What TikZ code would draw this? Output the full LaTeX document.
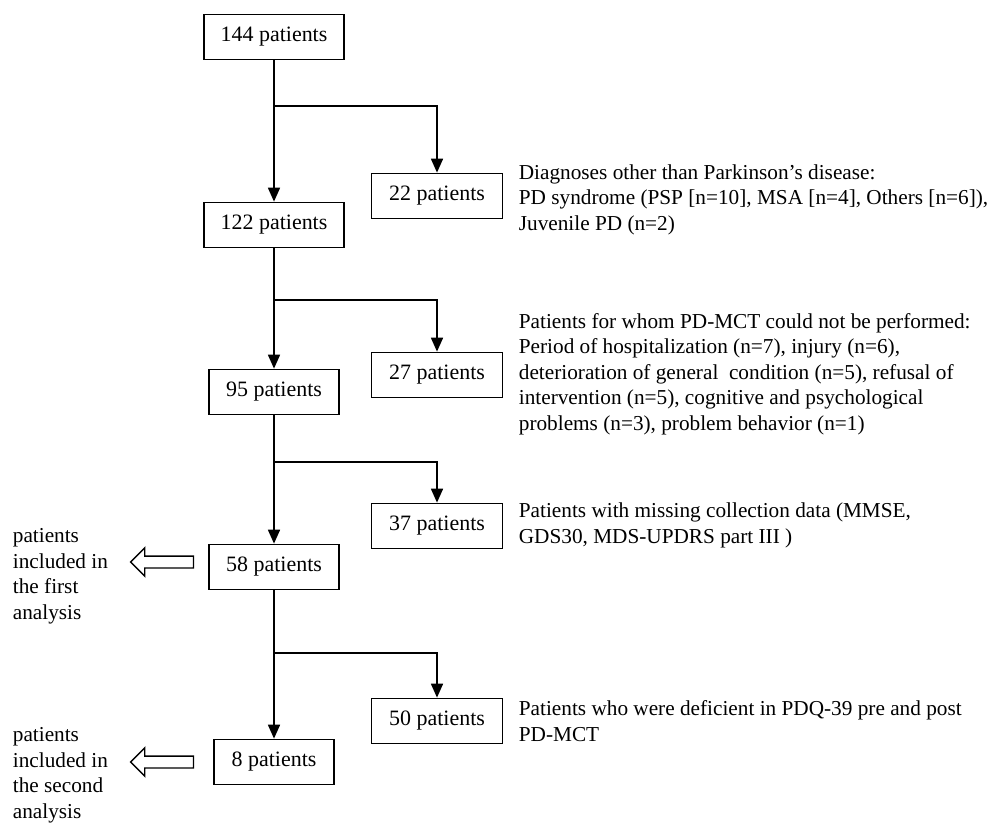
\documentclass[tikz,border=0pt]{standalone}
\usepackage{fontspec}
\setmainfont{Liberation Serif}
\usetikzlibrary{arrows.meta,shapes.arrows}

\begin{document}
\begin{tikzpicture}[x=0.02cm,y=-0.02cm,line width=1pt,
  >={Triangle[length=0.28cm,width=0.24cm]}]
  \tikzstyle{box}=[draw,font=\fontsize{12.5}{14.8}\selectfont,inner sep=0pt,minimum height=0.9cm]
  \tikzstyle{note}=[font=\fontsize{12.1}{14.5}\selectfont,anchor=base west,align=left,inner sep=0pt]
  \tikzstyle{hollow}=[draw,single arrow,shape border rotate=180,minimum height=1.26cm,
                      inner xsep=0pt,inner ysep=0.105cm,single arrow head extend=0.165cm,line width=0.8pt]
  \useasboundingbox (0,0) rectangle (997,826);

  % main column
  \node[box,minimum width=2.8cm] (n144) at (274,37)  {144 patients};
  \node[box,minimum width=2.8cm] (n122) at (274,225) {122 patients};
  \node[box,minimum width=2.6cm] (n95)  at (274,392) {95 patients};
  \node[box,minimum width=2.6cm] (n58)  at (274,567) {58 patients};
  \node[box,minimum width=2.4cm] (n8)   at (274,762) {8 patients};

  % excluded
  \node[box,minimum width=2.62cm] (n22) at (437,196) {22 patients};
  \node[box,minimum width=2.62cm] (n27) at (437,375) {27 patients};
  \node[box,minimum width=2.62cm] (n37) at (437,526) {37 patients};
  \node[box,minimum width=2.62cm] (n50) at (437,721) {50 patients};

  \coordinate (b1) at (274,106);
  \coordinate (b2) at (274,300);
  \coordinate (b3) at (274,462);
  \coordinate (b4) at (274,653);

  \draw[->] (n144) -- (n122);
  \draw[->] (n122) -- (n95);
  \draw[->] (n95) -- (n58);
  \draw[->] (n58) -- (n8);
  \draw[->] (b1) -| (n22);
  \draw[->] (b2) -| (n27);
  \draw[->] (b3) -| (n37);
  \draw[->] (b4) -| (n50);

  % reasons (anchored at the last line)
  \node[note] (r22) at (518,230) {Diagnoses other than Parkinson's disease:\\
    PD syndrome (PSP [n=10], MSA [n=4], Others [n=6]),\\
    Juvenile PD (n=2)};
  \node[note] (r27) at (518,430) {Patients for whom PD-MCT could not be performed:\\
    Period of hospitalization (n=7), injury (n=6),\\
    deterioration of general\ \ condition (n=5), refusal of\\
    intervention (n=5), cognitive and psychological\\
    problems (n=3), problem behavior (n=1)};
  \node[note] (r37) at (518,543) {Patients with missing collection data (MMSE,\\
    GDS30, MDS-UPDRS part III )};
  \node[note] (r50) at (518,741) {Patients who were deficient in PDQ-39 pre and post\\
    PD-MCT};

  % analyses
  \node[hollow] (h1) at (165,562) {};
  \node[hollow] (h2) at (165,762) {};
  \node[note] (a1) at (12,619) {patients\\ included in\\ the first\\ analysis};
  \node[note] (a2) at (12,818) {patients\\ included in\\ the second\\ analysis};
\end{tikzpicture}
\end{document}
